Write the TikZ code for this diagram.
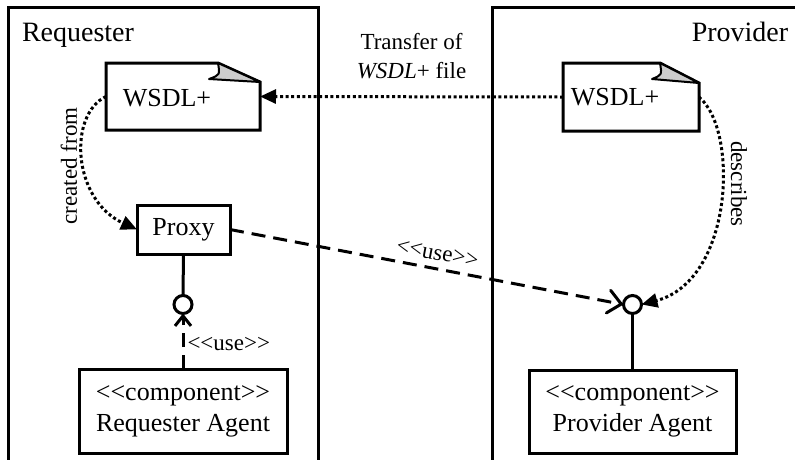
\documentclass[tikz,border=0pt]{standalone}
\usepackage{fontspec}
\setmainfont{Liberation Serif}
\usetikzlibrary{arrows.meta}
\newcommand{\stlt}{<\kern0pt<}
\newcommand{\stgt}{>\kern0pt>}
\tikzset{
  frame/.style={draw, line width=3pt, rectangle, inner sep=0pt, outer sep=0pt},
  boxnode/.style={draw, line width=3pt, rectangle, inner sep=0pt, outer sep=0pt,
    font=\fontsize{26}{31}\selectfont, align=center},
  docnode/.style={rectangle, inner sep=0pt, outer sep=0pt},
  docline/.style={line width=3pt, line join=miter},
  flap/.style={fill=gray!40, draw, line width=2pt, line join=round},
  doctext/.style={font=\fontsize{26}{31}\selectfont, inner sep=0pt},
  title/.style={font=\fontsize{28}{32}\selectfont, inner sep=0pt, anchor=base},
  small/.style={font=\fontsize{23}{28}\selectfont, inner sep=2pt},
  dots/.style={line width=3pt, dash pattern=on 3pt off 2.6pt},
  dashes/.style={line width=3pt, dash pattern=on 14pt off 8pt},
  stem/.style={line width=3pt},
  iface/.style={circle, draw, line width=3pt, minimum size=18pt, inner sep=0pt, outer sep=0pt},
  filltip/.style={-{Triangle[length=16pt,width=14pt]}},
  opentip/.style={-{Straight Barb[length=13pt,width=23pt,line cap=round]}},
  opentipsm/.style={-{Straight Barb[length=10pt,width=16pt]}},
}
\begin{document}
\begin{tikzpicture}[x=1pt,y=-1pt]
\useasboundingbox (0,0) rectangle (795,459);
\clip (0,0) rectangle (795,459);
\fill[white] (0,0) rectangle (795,459);

% containers
\node[frame, minimum width=310pt, minimum height=500pt, anchor=north west] (req) at (8,7) {};
\node[frame, minimum width=340pt, minimum height=500pt, anchor=north west] (prov) at (492,7) {};
\node[title] (reqtitle) at (78,41) {Requester};
\node[title] (provtitle) at (740,41) {Provider};

% documents
\node[docnode, minimum width=154pt, minimum height=67pt] (ldoc) at (183,96.5) {};
\draw[docline] (ldoc.north west) -- ([xshift=-42pt]ldoc.north east) -- ([yshift=-19pt]ldoc.north east)
  -- (ldoc.south east) -- (ldoc.south west) -- cycle;
\filldraw[flap] ([xshift=-42pt]ldoc.north east) .. controls ([xshift=-40pt,yshift=-12pt]ldoc.north east)
  .. ([xshift=-51pt,yshift=-16pt]ldoc.north east) -- ([yshift=-19pt]ldoc.north east) -- cycle;
\node[doctext] (ldoctext) at (167,98) {WSDL+};

\node[docnode, minimum width=136pt, minimum height=68pt] (rdoc) at (631,97) {};
\draw[docline] (rdoc.north west) -- ([xshift=-39pt]rdoc.north east) -- ([yshift=-20pt]rdoc.north east)
  -- (rdoc.south east) -- (rdoc.south west) -- cycle;
\filldraw[flap] ([xshift=-39pt]rdoc.north east) .. controls ([xshift=-37pt,yshift=-12pt]rdoc.north east)
  .. ([xshift=-47pt,yshift=-16pt]rdoc.north east) -- ([yshift=-20pt]rdoc.north east) -- cycle;
\node[doctext] (rdoctext) at (615,97) {WSDL+};

% proxy and agents
\node[boxnode, minimum width=93pt, minimum height=49pt] (proxy) at (183.5,229.5) {Proxy};
\node[iface] (lcirc) at (183,304.5) {};
\node[boxnode, minimum width=208pt, minimum height=84pt] (ragent) at (183,411)
  {\stlt component\stgt\\Requester Agent};

\node[iface] (rcirc) at (632.5,304.5) {};
\node[boxnode, minimum width=207pt, minimum height=83pt] (pagent) at (632.5,411.5)
  {\stlt component\stgt\\Provider Agent};

% connectors
\draw[dots, filltip] (rdoc.west) -- (ldoc.east)
  node[small, pos=0.5, above=14pt, align=center, font=\fontsize{23}{29}\selectfont] (transfer)
  {Transfer of\\\textit{WSDL}+ file};

\draw[dots, filltip] (ldoc.west) .. controls +(-38,18) and +(-65,-30) .. (proxy.west);
\node[small, rotate=90] (created) at (69,166) {created from};

\draw[dots, filltip] (rdoc.east) .. controls +(40,33) and +(92,-24) .. (rcirc.east);
\node[small, rotate=-90] (describes) at (739,184) {describes};

\draw[stem] (proxy.south) -- (lcirc.north);
\draw[stem] (rcirc.south) -- (pagent.north);

\draw[dashes, opentipsm] (ragent.north) -- (lcirc.south)
  node[small, pos=0.45, right=1pt] (use1) {\stlt use\stgt};

\draw[dashes, opentip] (proxy.east) -- (rcirc.west)
  node[small, pos=0.52, sloped, above=5pt] (use2) {\stlt use\stgt};
\end{tikzpicture}
\end{document}
